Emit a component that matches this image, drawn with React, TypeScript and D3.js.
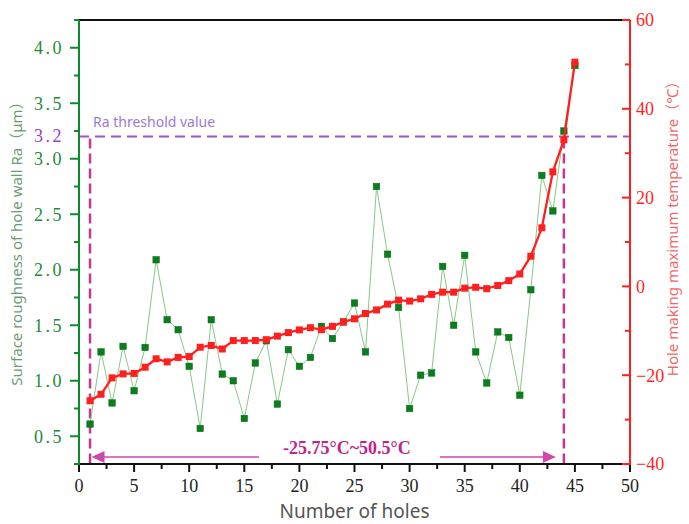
import React from "react";
import * as d3 from "d3";

// Surface roughness Ra (μm) of each hole wall, holes 1..45
const roughness = [
  0.61, 1.26, 0.8, 1.31, 0.91, 1.3, 2.09, 1.55, 1.46, 1.13,
  0.57, 1.55, 1.06, 1.0, 0.66, 1.16, 1.36, 0.79, 1.28, 1.13,
  1.21, 1.49, 1.38, 1.53, 1.7, 1.26, 2.75, 2.14, 1.66, 0.75,
  1.05, 1.07, 2.03, 1.5, 2.13, 1.26, 0.98, 1.44, 1.39, 0.87,
  1.82, 2.85, 2.53, 3.25, 3.84,
];

// Hole making maximum temperature (°C), holes 1..45
const temperature = [
  -25.75, -24.3, -20.6, -19.7, -19.6, -18.2, -16.3, -17.0, -16.0, -15.8,
  -13.7, -13.3, -14.1, -12.2, -12.2, -12.2, -12.0, -11.2, -10.4, -9.8,
  -9.3, -9.75, -9.0, -8.0, -7.3, -6.1, -5.3, -4.0, -3.1, -3.3,
  -2.8, -1.8, -1.3, -1.3, -0.4, -0.2, -0.5, 0.2, 1.3, 2.8,
  6.8, 13.2, 25.8, 33.0, 50.5,
];

const raThreshold = 3.2;
const rangeStartHole = 1;
const rangeEndHole = 44;

const xTicks = [0, 5, 10, 15, 20, 25, 30, 35, 40, 45, 50];
const leftTicks = [0.5, 1.0, 1.5, 2.0, 2.5, 3.0, 3.5, 4.0];
const rightTicks = [-40, -20, 0, 20, 40, 60];

const W = 689;
const H = 524;
const left = 79;
const right = 630;
const top = 20;
const bottom = 464;

const GREEN = "#0b8c2c";
const GREEN_LABEL = "#23893a";
const RED = "#ff1f1f";
const PURPLE = "#a64fd0";
const MAGENTA = "#c3398f";
const ARROW = "#d145ad";
const SERIF = "'Liberation Serif', 'DejaVu Serif', serif";
const SANS = "'Noto Sans', 'Noto Sans CJK SC', sans-serif";

export default function App() {
  const x = d3.scaleLinear().domain([0, 50]).range([left, right]);
  const yL = d3.scaleLinear().domain([0.25, 4.25]).range([bottom, top]);
  const yR = d3.scaleLinear().domain([-40, 60]).range([bottom, top]);

  const greenLine = d3
    .line<number>()
    .x((_, i) => x(i + 1))
    .y((d) => yL(d));
  const redLine = d3
    .line<number>()
    .x((_, i) => x(i + 1))
    .y((d) => yR(d));

  const xMinor = d3.range(0, 50.01, 2.5).filter((v) => v % 5 !== 0);
  const leftMinor = d3.range(0.25, 4.26, 0.25).filter((v) => Math.abs(v * 2 - Math.round(v * 2)) > 1e-6);
  const rightMinor = d3.range(-30, 60, 20);

  const tMin = d3.min(temperature) as number;
  const tMax = d3.max(temperature) as number;
  const rangeLabel = `${tMin}°C~${tMax}°C`;

  const xs = x(rangeStartHole);
  const xe = x(rangeEndHole);
  const yTh = yL(raThreshold);
  const arrowY = bottom - 7;
  const textX = (xs + xe) / 2 + 20;

  const gsz = 6.5;
  const rsz = 7;
  const fmt = d3.format(".1f");

  return (
    <svg
      width={W}
      height={H}
      style={{ position: "absolute", left: 0, top: 0, background: "#fff" }}
    >
      {/* threshold line */}
      <line x1={left} x2={right} y1={yTh} y2={yTh} stroke={PURPLE} strokeWidth={2} strokeDasharray="10 6" />
      <text x={left + 14} y={yTh - 10} fontFamily={SANS} fontSize={14} fill="#9a7ad6">
        Ra threshold value
      </text>

      {/* temperature range markers */}
      <line x1={xs} x2={xs} y1={yTh + 2} y2={bottom} stroke={MAGENTA} strokeWidth={2.5} strokeDasharray="10 5" />
      <line x1={xe} x2={xe} y1={yTh + 2} y2={bottom} stroke={MAGENTA} strokeWidth={2.5} strokeDasharray="10 5" />

      {/* roughness series */}
      <path d={greenLine(roughness) || ""} fill="none" stroke="#86c886" strokeWidth={1} />
      {roughness.map((v, i) => (
        <rect
          key={`g${i}`}
          x={x(i + 1) - gsz / 2}
          y={yL(v) - gsz / 2}
          width={gsz}
          height={gsz}
          fill="#0a7d1d"
          stroke="#0a6a18"
          strokeWidth={0.5}
        />
      ))}

      {/* temperature series */}
      <path d={redLine(temperature) || ""} fill="none" stroke={RED} strokeWidth={2.3} />
      {temperature.map((v, i) => (
        <rect
          key={`r${i}`}
          x={x(i + 1) - rsz / 2}
          y={yR(v) - rsz / 2}
          width={rsz}
          height={rsz}
          fill={RED}
        />
      ))}

      {/* range arrow annotation */}
      <line x1={xs + 10} x2={textX - 88} y1={arrowY} y2={arrowY} stroke={ARROW} strokeWidth={1.5} />
      <path d={`M${xs + 1.5},${arrowY} l13,-6 l0,12 z`} fill={ARROW} />
      <line x1={textX + 93} x2={xe - 20} y1={arrowY} y2={arrowY} stroke={ARROW} strokeWidth={1.5} />
      <path d={`M${xe - 8},${arrowY} l-13,-6 l0,12 z`} fill={ARROW} />
      <text
        x={textX}
        y={arrowY - 3}
        textAnchor="middle"
        fontFamily={SERIF}
        fontWeight="bold"
        fontSize={18}
        fill="#c2258a"
      >
        {rangeLabel}
      </text>

      {/* frame */}
      <line x1={left} x2={right} y1={top} y2={top} stroke="#111" strokeWidth={2} />
      <line x1={left} x2={right} y1={bottom} y2={bottom} stroke="#111" strokeWidth={2} />

      {/* bottom axis */}
      {xTicks.map((t) => (
        <g key={`xt${t}`}>
          <line x1={x(t)} x2={x(t)} y1={bottom} y2={bottom + 8} stroke="#111" strokeWidth={2} />
          <text x={x(t)} y={bottom + 28} textAnchor="middle" fontFamily={SERIF} fontSize={18} fill="#222">
            {t}
          </text>
        </g>
      ))}
      {xMinor.map((t) => (
        <line key={`xm${t}`} x1={x(t)} x2={x(t)} y1={bottom} y2={bottom + 5} stroke="#111" strokeWidth={2} />
      ))}
      <text x={(left + right) / 2} y={H - 6} textAnchor="middle" fontFamily={SANS} fontSize={19} fill="#555">
        Number of holes
      </text>

      {/* left axis */}
      <line x1={left} x2={left} y1={top} y2={bottom + 1} stroke={GREEN} strokeWidth={2} />
      {leftTicks.map((t) => (
        <g key={`lt${t}`}>
          <line x1={left - 9} x2={left} y1={yL(t)} y2={yL(t)} stroke={GREEN} strokeWidth={2} />
          <text
            x={left - 15}
            y={yL(t)}
            dy="0.35em"
            textAnchor="end"
            fontFamily={SERIF}
            fontSize={18}
            letterSpacing={2.5}
            fill={GREEN_LABEL}
          >
            {fmt(t)}
          </text>
        </g>
      ))}
      {leftMinor.map((t) => (
        <line key={`lm${t}`} x1={left - 5} x2={left} y1={yL(t)} y2={yL(t)} stroke={GREEN} strokeWidth={2} />
      ))}
      <text
        x={left - 15}
        y={yTh}
        dy="0.3em"
        textAnchor="end"
        fontFamily={SERIF}
        fontSize={18}
        letterSpacing={2.5}
        fill="#a03cc0"
      >
        {fmt(raThreshold)}
      </text>
      <text
        transform={`translate(22,240) rotate(-90)`}
        textAnchor="middle"
        fontFamily={SANS}
        fontSize={15}
        fill="#6a9c74"
      >
        Surface roughness of hole wall Ra（μm）
      </text>

      {/* right axis */}
      <line x1={right} x2={right} y1={top} y2={bottom + 1} stroke={RED} strokeWidth={2} />
      {rightTicks.map((t) => (
        <g key={`rt${t}`}>
          <line x1={right - 8} x2={right} y1={yR(t)} y2={yR(t)} stroke={RED} strokeWidth={2} />
          <text x={right + 6} y={yR(t)} dy="0.35em" fontFamily={SERIF} fontSize={18} fill={RED}>
            {t < 0 ? `−${-t}` : t}
          </text>
        </g>
      ))}
      {rightMinor.map((t) => (
        <line key={`rm${t}`} x1={right - 5} x2={right} y1={yR(t)} y2={yR(t)} stroke={RED} strokeWidth={2} />
      ))}
      <text
        transform={`translate(678,225) rotate(-90)`}
        textAnchor="middle"
        fontFamily={SANS}
        fontSize={15}
        fill="#f06868"
      >
        Hole making maximum temperature（℃）
      </text>
    </svg>
  );
}
